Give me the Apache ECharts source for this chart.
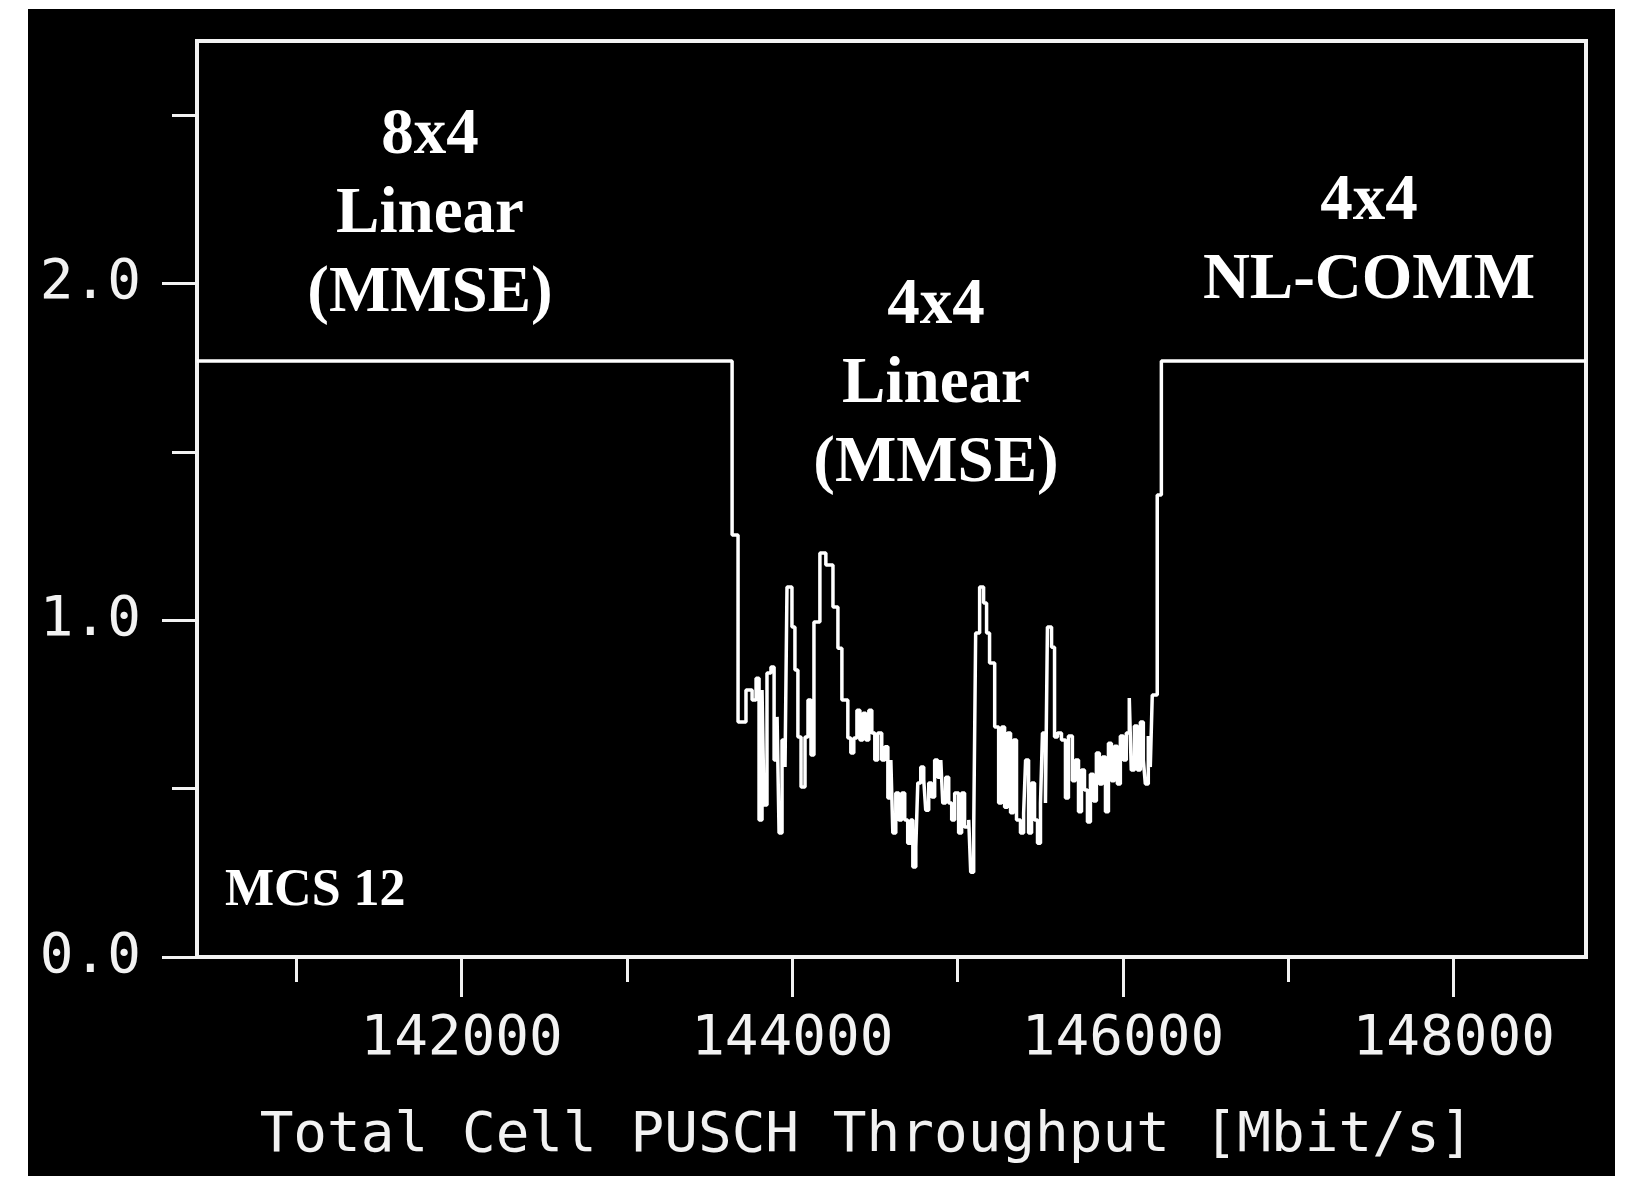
<!DOCTYPE html>
<html>
<head>
<meta charset="utf-8">
<script src="https://cdn.jsdelivr.net/npm/echarts@6/dist/echarts.min.js"></script>
<style>
    html, body { margin: 0; background: #ffffff; }
    #frame { position: absolute; left: 28px; top: 9px; width: 1587px; height: 1167px; background: #000000; }
    #chart { position: absolute; left: 0; top: 0; width: 1644px; height: 1185px; }
</style>
</head>
<body>
<div id="frame"></div>
<div id="chart"></div>
<script>
// throughput [Mbit/s] where the step level changes, and the level from there on
var throughput = [140400, 143636, 143672, 143720, 143757, 143781, 143799, 143817, 143829, 143847,
    143871, 143890, 143908, 143920, 143938, 143956, 143968, 143998, 144016, 144034, 144053, 144077,
    144095, 144113, 144131, 144167, 144203, 144246, 144276, 144300, 144336, 144354, 144372, 144391,
    144409, 144427, 144445, 144463, 144481, 144499, 144517, 144541, 144560, 144578, 144596, 144608,
    144626, 144644, 144662, 144680, 144698, 144716, 144729, 144747, 144759, 144777, 144795, 144807,
    144825, 144843, 144861, 144879, 144898, 144910, 144928, 144946, 144964, 144982, 145006, 145024,
    145042, 145067, 145079, 145097, 145109, 145133, 145157, 145175, 145193, 145224, 145248, 145266,
    145284, 145302, 145320, 145338, 145356, 145380, 145399, 145411, 145429, 145447, 145465, 145483,
    145501, 145513, 145531, 145543, 145568, 145586, 145604, 145628, 145652, 145670, 145694, 145712,
    145731, 145749, 145767, 145785, 145803, 145821, 145839, 145857, 145875, 145894, 145912, 145930,
    145948, 145966, 145984, 146002, 146020, 146038, 146050, 146069, 146087, 146105, 146123, 146135,
    146153, 146165, 146177, 146207, 146232, 148800];
var ratio = [1.77, 1.253, 0.698, 0.793, 0.763, 0.828, 0.407, 0.793, 0.451, 0.843,
    0.861, 0.585, 0.713, 0.368, 0.644, 0.564, 1.099, 0.980, 0.852, 0.653, 0.505, 0.653,
    0.763, 0.600, 0.995, 1.200, 1.164, 1.039, 0.917, 0.763, 0.650, 0.606, 0.650, 0.733,
    0.644, 0.724, 0.644, 0.733, 0.665, 0.585, 0.665, 0.585, 0.624, 0.472, 0.585, 0.368,
    0.487, 0.407, 0.487, 0.407, 0.338, 0.407, 0.267, 0.327, 0.517, 0.564, 0.526, 0.436,
    0.517, 0.475, 0.585, 0.534, 0.585, 0.457, 0.534, 0.457, 0.407, 0.487, 0.368, 0.487,
    0.386, 0.407, 0.252, 0.377, 0.962, 1.099, 1.051, 0.962, 0.873, 0.683, 0.457, 0.683,
    0.445, 0.665, 0.428, 0.644, 0.407, 0.368, 0.428, 0.585, 0.368, 0.517, 0.407, 0.338,
    0.457, 0.665, 0.457, 0.980, 0.920, 0.653, 0.665, 0.644, 0.472, 0.656, 0.523, 0.585,
    0.431, 0.555, 0.496, 0.401, 0.543, 0.463, 0.606, 0.514, 0.594, 0.431, 0.635, 0.523,
    0.626, 0.514, 0.656, 0.585, 0.665, 0.769, 0.555, 0.686, 0.555, 0.698, 0.585, 0.514,
    0.656, 0.564, 0.778, 1.372, 1.77, 1.77];

var xMajorTicks = [142000, 144000, 146000, 148000];
var xMinorTicks = [141000, 143000, 145000, 147000];
var yMajorTicks = [0, 1, 2];
var yMinorTicks = [0.5, 1.5, 2.5];

var axisFont = '"DejaVu Sans Mono", monospace';
var noteFont = '"Liberation Serif", "Times New Roman", serif';
var fg = "#f2f2f2";

var chart = echarts.init(document.getElementById("chart"));

var points = throughput.map(function (x, i) {
    return [x, ratio[i]];
});

var option = {
    animation: false,
    backgroundColor: "transparent",
    grid: {
        left: 197,
        right: 58,
        top: 41,
        bottom: 228,
        show: true,
        borderColor: fg,
        borderWidth: 4,
        backgroundColor: "transparent",
    },
    xAxis: [
        {
            type: "value",
            min: 140400,
            max: 148800,
            position: "bottom",
            axisLine: { show: true, lineStyle: { color: fg, width: 4 } },
            axisTick: { show: true, customValues: xMajorTicks, length: 40, lineStyle: { color: fg, width: 3 } },
            axisLabel: {
                show: true,
                customValues: xMajorTicks,
                margin: 54,
                color: fg,
                fontFamily: axisFont,
                fontSize: 56,
                formatter: function (v) { return String(v); },
            },
            splitLine: { show: false },
            name: "Total Cell PUSCH Throughput [Mbit/s]",
            nameLocation: "middle",
            nameGap: 151,
            nameTextStyle: { color: fg, fontFamily: axisFont, fontSize: 56, padding: [0, 50, 0, 0] },
        },
        {
            type: "value",
            min: 140400,
            max: 148800,
            position: "bottom",
            offset: 0,
            axisLine: { show: false },
            axisTick: { show: true, customValues: xMinorTicks, length: 25, lineStyle: { color: fg, width: 3 } },
            axisLabel: { show: false },
            splitLine: { show: false },
        },
    ],
    yAxis: [
        {
            type: "value",
            min: 0,
            max: 2.72,
            position: "left",
            axisLine: { show: true, lineStyle: { color: fg, width: 4 } },
            axisTick: { show: true, customValues: yMajorTicks, length: 35, lineStyle: { color: fg, width: 3 } },
            axisLabel: {
                show: true,
                customValues: yMajorTicks,
                margin: 56,
                color: fg,
                fontFamily: axisFont,
                fontSize: 56,
                formatter: function (v) { return v.toFixed(1); },
            },
            splitLine: { show: false },
        },
        {
            type: "value",
            min: 0,
            max: 2.72,
            position: "left",
            offset: 0,
            axisLine: { show: false },
            axisTick: { show: true, customValues: yMinorTicks, length: 25, lineStyle: { color: fg, width: 3 } },
            axisLabel: { show: false },
            splitLine: { show: false },
        },
    ],
    series: [
        {
            type: "line",
            step: "end",
            data: points,
            showSymbol: false,
            clip: true,
            lineStyle: { color: "#ffffff", width: 3.5 },
        },
    ],
    graphic: [
        {
            type: "text", x: 430, y: 215,
            style: { text: "8x4\nLinear\n(MMSE)", fill: "#ffffff", font: "bold 65px " + noteFont,
                     textAlign: "center", textVerticalAlign: "middle", lineHeight: 79 },
        },
        {
            type: "text", x: 936, y: 385,
            style: { text: "4x4\nLinear\n(MMSE)", fill: "#ffffff", font: "bold 65px " + noteFont,
                     textAlign: "center", textVerticalAlign: "middle", lineHeight: 79 },
        },
        {
            type: "text", x: 1369, y: 242,
            style: { text: "4x4\nNL-COMM", fill: "#ffffff", font: "bold 65px " + noteFont,
                     textAlign: "center", textVerticalAlign: "middle", lineHeight: 79 },
        },
        {
            type: "text", x: 225, y: 892,
            style: { text: "MCS 12", fill: "#ffffff", font: "bold 52px " + noteFont,
                     textAlign: "left", textVerticalAlign: "middle" },
        },
    ],
};

chart.setOption(option);
</script>
</body>
</html>
